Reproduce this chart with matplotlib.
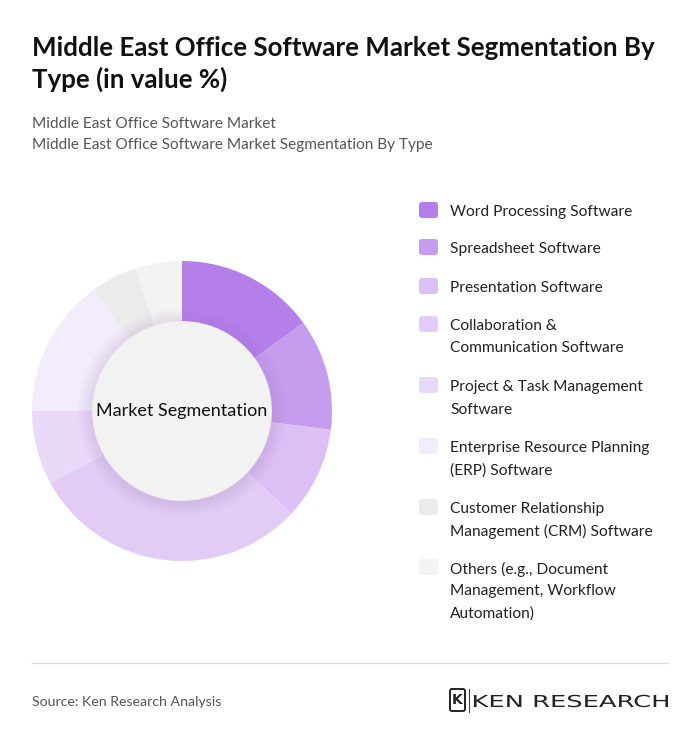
import matplotlib.pyplot as plt
from matplotlib.patches import Circle, FancyBboxPatch, PathPatch
from matplotlib.textpath import TextPath
from matplotlib.font_manager import FontProperties
from matplotlib.transforms import Affine2D

# data
categories = [
    "Word Processing Software",
    "Spreadsheet Software",
    "Presentation Software",
    "Collaboration &\nCommunication Software",
    "Project & Task Management\nSoftware",
    "Enterprise Resource Planning\n(ERP) Software",
    "Customer Relationship\nManagement (CRM) Software",
    "Others (e.g., Document\nManagement, Workflow\nAutomation)",
]
shares = [15, 12, 10, 30, 8, 15, 5, 5]
colors = ["#b57fea", "#c59cee", "#dbbff5", "#e2ccf6", "#e9d9f9",
          "#f3ecfc", "#ebebeb", "#f3f3f3"]

plt.rcParams['font.family'] = ['Lato', 'DejaVu Sans']

W, H = 700, 749
fig = plt.figure(figsize=(W / 100, H / 100), dpi=100)
fig.patch.set_facecolor("white")

# page axes in pixel coords
bg = fig.add_axes([0, 0, 1, 1])
bg.set_xlim(0, W)
bg.set_ylim(H, 0)
bg.axis("off")

bg.text(32, 48, "Middle East Office Software Market Segmentation By",
        fontsize=18.6, fontweight="bold", color="#111111", va="center")
bg.text(32, 79, "Type (in value %)",
        fontsize=18.6, fontweight="bold", color="#111111", va="center")
bg.text(32, 124, "Middle East Office Software Market", fontsize=11.1,
        color="#555555", va="center")
bg.text(32, 145, "Middle East Office Software Market Segmentation By Type",
        fontsize=11.1, color="#555555", va="center")

# legend
row_y = [210, 247, 286, 324, 385, 446, 507, 567]
for lab, col, y in zip(categories, colors, row_y):
    box = FancyBboxPatch((419, y - 8), 19, 16,
                         boxstyle="round,pad=0,rounding_size=3",
                         facecolor=col, edgecolor="none")
    bg.add_patch(box)
    for k, line in enumerate(lab.split("\n")):
        bg.text(450, y + 2 + 22.5 * k, line, fontsize=11.2, color="#222222",
                va="center")

# footer
bg.plot([32, 668], [663, 663], color="#dddddd", lw=1)
bg.text(32, 702, "Source: Ken Research Analysis", fontsize=10.2,
        color="#555555", va="center")

# logo: wide lettering
tp = TextPath((0, 0), "KEN RESEARCH", size=16.5,
              prop=FontProperties(family="DejaVu Sans"))
ext = tp.get_extents()
sx = 194 / ext.width
tr = Affine2D().translate(-ext.x0, 0).scale(sx, -1).translate(474, 707)
bg.add_patch(PathPatch(tr.transform_path(tp), facecolor="#222222",
                       edgecolor="none"))
shield = FancyBboxPatch((450, 689), 15, 22, boxstyle="round,pad=0,rounding_size=2",
                        facecolor="white", edgecolor="#222222", lw=1.4)
bg.add_patch(shield)
bg.text(457.5, 700, "K", fontsize=10, color="#222222", ha="center",
        va="center", fontweight="bold", family="DejaVu Sans")
bg.plot([469, 469], [689, 712], color="#444444", lw=0.8)

# donut
cx, cy, r = 182, 411, 150
ax = fig.add_axes([(cx - r) / W, (H - cy - r) / H, 2 * r / W, 2 * r / H])
ax.pie(shares, colors=colors, startangle=90, counterclock=False,
       radius=1, wedgeprops=dict(width=0.4, edgecolor="none"))
# soft shadow around center disc
for i in range(8):
    ax.add_patch(Circle((0, -0.01), 0.6 + 0.012 * (8 - i), facecolor="#9b7bbf",
                        edgecolor="none", alpha=0.025))
ax.add_patch(Circle((0, 0), 0.595, facecolor="#f2f2f2", edgecolor="none"))
ax.text(0, 0, "Market Segmentation", ha="center", va="center",
        fontsize=13, color="#111111")
ax.set_xlim(-1, 1)
ax.set_ylim(-1, 1)
ax.set_aspect("equal")
ax.axis("off")

fig.savefig("out.png", dpi=100, facecolor="white")
